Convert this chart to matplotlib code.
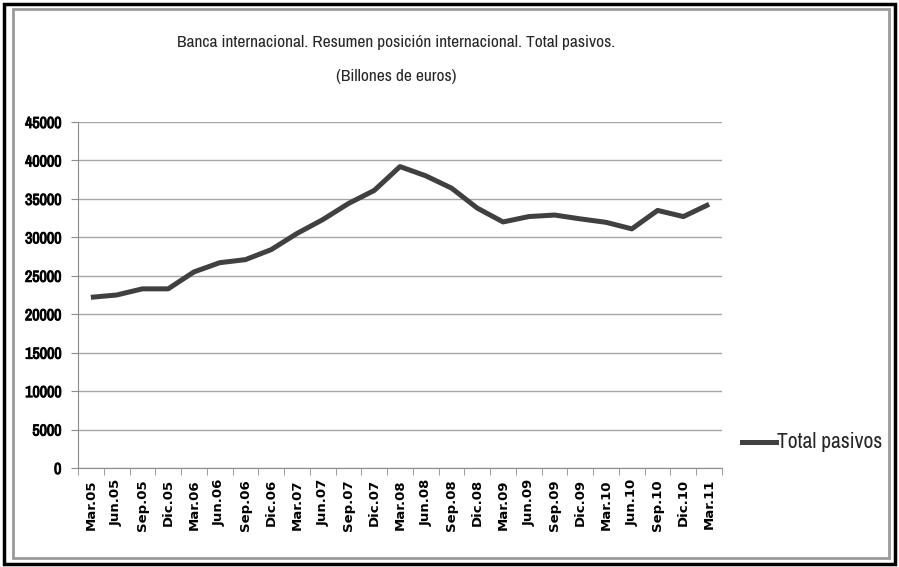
import matplotlib.pyplot as plt
import matplotlib.patheffects as pe
from matplotlib import font_manager
from matplotlib.patches import Rectangle
from matplotlib.lines import Line2D

quarters = ["Mar.05", "Jun.05", "Sep.05", "Dic.05", "Mar.06", "Jun.06", "Sep.06", "Dic.06",
            "Mar.07", "Jun.07", "Sep.07", "Dic.07", "Mar.08", "Jun.08", "Sep.08", "Dic.08",
            "Mar.09", "Jun.09", "Sep.09", "Dic.09", "Mar.10", "Jun.10", "Sep.10", "Dic.10",
            "Mar.11"]
total_pasivos = [22200, 22500, 23300, 23300, 25500, 26700, 27100, 28400,
                 30500, 32300, 34400, 36100, 39200, 38000, 36400, 33800,
                 32000, 32700, 32900, 32400, 31950, 31100, 33500, 32700,
                 34300]
y_ticks = list(range(0, 45001, 5000))

# a condensed face for titles and y labels, if one is around
condensed = [f.name for f in font_manager.fontManager.ttflist
             if "Narrow" in f.name or "Condensed" in f.name]
narrow = sorted(set(condensed))[:1] + ["DejaVu Sans"]

W, H = 899, 567
fig = plt.figure(figsize=(W / 100, H / 100), dpi=100)

# frames around the chart
fig.add_artist(Rectangle((4 / W, 1 - 564 / H), 891 / W, 560 / H, transform=fig.transFigure,
                         fill=False, edgecolor="black", linewidth=2.5))
fig.add_artist(Rectangle((13 / W, 1 - 558 / H), 876 / W, 549 / H, transform=fig.transFigure,
                         fill=False, edgecolor="#9a9a9a", linewidth=2))

left, right, top, bottom = 78, 722, 122, 468
ax = fig.add_axes([left / W, 1 - bottom / H, (right - left) / W, (bottom - top) / H])

x = list(range(len(quarters)))
ax.plot(x, total_pasivos, color="#404040", linewidth=3.6, solid_capstyle="butt",
        solid_joinstyle="round")

ax.set_xlim(-0.5, len(quarters) - 0.5)
ax.set_ylim(0, 45000)
ax.set_yticks(y_ticks)
ylabels = ax.set_yticklabels([str(v) for v in y_ticks], fontfamily=narrow,
                             fontstretch="condensed", fontweight="bold", fontsize=11.5)
# thicken the narrow digits a little
for lbl in ylabels:
    lbl.set_path_effects([pe.withStroke(linewidth=0.7, foreground="black")])
ax.set_xticks(x)
ax.set_xticklabels(quarters, rotation=90, fontweight="bold", fontsize=9.5)
ax.set_xticks([i - 0.5 for i in range(len(quarters) + 1)], minor=True)
ax.tick_params(axis="x", which="major", length=0, pad=8)
ax.tick_params(axis="x", which="minor", length=5, color="#8c8c8c", direction="out")
ax.tick_params(axis="y", length=5, color="#8c8c8c", direction="out", pad=7)

ax.grid(axis="y", color="#a6a6a6", linewidth=1)
ax.set_axisbelow(True)
for side in ("top", "right"):
    ax.spines[side].set_visible(False)
for side in ("left", "bottom"):
    ax.spines[side].set_color("#8c8c8c")

fig.text(396 / W, 1 - 43 / H, "Banca internacional. Resumen posición internacional. Total pasivos.",
         ha="center", va="center", fontsize=12.5, family=narrow, fontstretch="condensed",
         color="#262626")
fig.text(396 / W, 1 - 77 / H, "(Billones de euros)",
         ha="center", va="center", fontsize=12.5, family=narrow, fontstretch="condensed",
         color="#262626")

# legend
fig.add_artist(Line2D([742 / W, 776 / W], [1 - 442 / H, 1 - 442 / H], transform=fig.transFigure,
                      color="#404040", linewidth=3.6))
fig.text(777 / W, 1 - 442 / H, "Total pasivos", ha="left", va="center", fontsize=15.5,
         family=narrow, fontstretch="condensed", color="#262626")

fig.savefig("out.png", dpi=100)
